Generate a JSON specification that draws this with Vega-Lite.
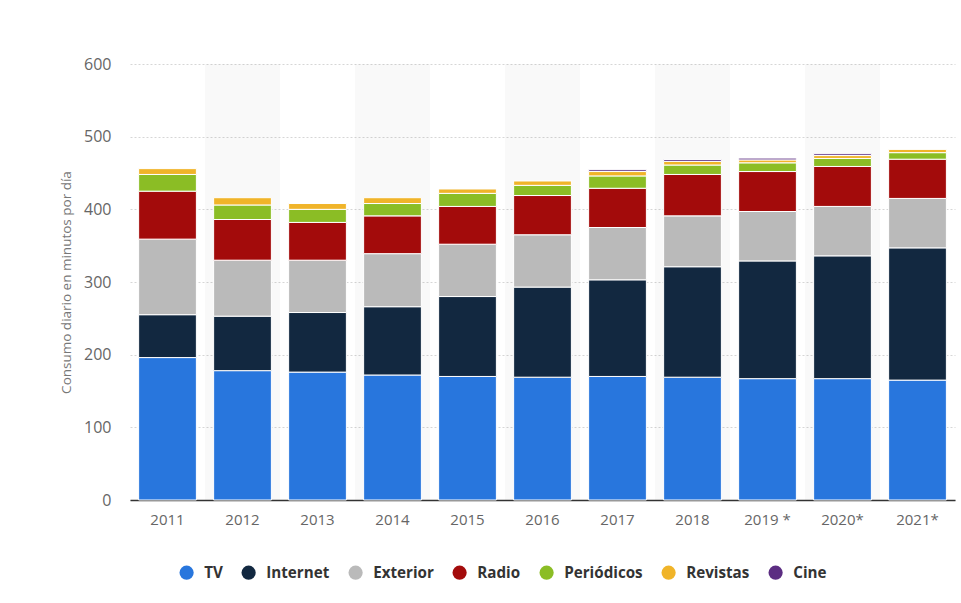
{
  "$schema": "https://vega.github.io/schema/vega-lite/v6.json",
  "width": 825,
  "height": 436,
  "autosize": "none",
  "padding": {"left": 130, "top": 64, "right": 6, "bottom": 103},
  "background": "white",
  "config": {"view": {"stroke": null}, "font": "Open Sans"},
  "datasets": {
    "bandas": [
      {"year": "2012"}, {"year": "2014"}, {"year": "2016"}, {"year": "2018"}, {"year": "2020*"}
    ],
    "series": [
      {"medio": "TV", "orden": 1},
      {"medio": "Internet", "orden": 2},
      {"medio": "Exterior", "orden": 3},
      {"medio": "Radio", "orden": 4},
      {"medio": "Periódicos", "orden": 5},
      {"medio": "Revistas", "orden": 6},
      {"medio": "Cine", "orden": 7}
    ],
    "consumo": [
      {"year": "2011", "medio": "TV", "minutos": 196},
      {"year": "2011", "medio": "Internet", "minutos": 59},
      {"year": "2011", "medio": "Exterior", "minutos": 104},
      {"year": "2011", "medio": "Radio", "minutos": 66},
      {"year": "2011", "medio": "Periódicos", "minutos": 23},
      {"year": "2011", "medio": "Revistas", "minutos": 8},
      {"year": "2012", "medio": "TV", "minutos": 178},
      {"year": "2012", "medio": "Internet", "minutos": 75},
      {"year": "2012", "medio": "Exterior", "minutos": 77},
      {"year": "2012", "medio": "Radio", "minutos": 56},
      {"year": "2012", "medio": "Periódicos", "minutos": 20},
      {"year": "2012", "medio": "Revistas", "minutos": 10},
      {"year": "2013", "medio": "TV", "minutos": 176},
      {"year": "2013", "medio": "Internet", "minutos": 82},
      {"year": "2013", "medio": "Exterior", "minutos": 72},
      {"year": "2013", "medio": "Radio", "minutos": 52},
      {"year": "2013", "medio": "Periódicos", "minutos": 18},
      {"year": "2013", "medio": "Revistas", "minutos": 8},
      {"year": "2014", "medio": "TV", "minutos": 172},
      {"year": "2014", "medio": "Internet", "minutos": 94},
      {"year": "2014", "medio": "Exterior", "minutos": 73},
      {"year": "2014", "medio": "Radio", "minutos": 52},
      {"year": "2014", "medio": "Periódicos", "minutos": 17},
      {"year": "2014", "medio": "Revistas", "minutos": 8},
      {"year": "2015", "medio": "TV", "minutos": 170},
      {"year": "2015", "medio": "Internet", "minutos": 110},
      {"year": "2015", "medio": "Exterior", "minutos": 72},
      {"year": "2015", "medio": "Radio", "minutos": 52},
      {"year": "2015", "medio": "Periódicos", "minutos": 18},
      {"year": "2015", "medio": "Revistas", "minutos": 6},
      {"year": "2016", "medio": "TV", "minutos": 169},
      {"year": "2016", "medio": "Internet", "minutos": 124},
      {"year": "2016", "medio": "Exterior", "minutos": 72},
      {"year": "2016", "medio": "Radio", "minutos": 54},
      {"year": "2016", "medio": "Periódicos", "minutos": 14},
      {"year": "2016", "medio": "Revistas", "minutos": 6},
      {"year": "2017", "medio": "TV", "minutos": 170},
      {"year": "2017", "medio": "Internet", "minutos": 133},
      {"year": "2017", "medio": "Exterior", "minutos": 72},
      {"year": "2017", "medio": "Radio", "minutos": 54},
      {"year": "2017", "medio": "Periódicos", "minutos": 17},
      {"year": "2017", "medio": "Revistas", "minutos": 6},
      {"year": "2017", "medio": "Cine", "minutos": 2.5},
      {"year": "2018", "medio": "TV", "minutos": 169},
      {"year": "2018", "medio": "Internet", "minutos": 152},
      {"year": "2018", "medio": "Exterior", "minutos": 70},
      {"year": "2018", "medio": "Radio", "minutos": 57},
      {"year": "2018", "medio": "Periódicos", "minutos": 13},
      {"year": "2018", "medio": "Revistas", "minutos": 5},
      {"year": "2018", "medio": "Cine", "minutos": 2.5},
      {"year": "2019 *", "medio": "TV", "minutos": 167},
      {"year": "2019 *", "medio": "Internet", "minutos": 162},
      {"year": "2019 *", "medio": "Exterior", "minutos": 68},
      {"year": "2019 *", "medio": "Radio", "minutos": 55},
      {"year": "2019 *", "medio": "Periódicos", "minutos": 12},
      {"year": "2019 *", "medio": "Revistas", "minutos": 4},
      {"year": "2019 *", "medio": "Cine", "minutos": 2.5},
      {"year": "2020*", "medio": "TV", "minutos": 167},
      {"year": "2020*", "medio": "Internet", "minutos": 169},
      {"year": "2020*", "medio": "Exterior", "minutos": 68},
      {"year": "2020*", "medio": "Radio", "minutos": 55},
      {"year": "2020*", "medio": "Periódicos", "minutos": 11},
      {"year": "2020*", "medio": "Revistas", "minutos": 4},
      {"year": "2020*", "medio": "Cine", "minutos": 2.5},
      {"year": "2021*", "medio": "TV", "minutos": 165},
      {"year": "2021*", "medio": "Internet", "minutos": 182},
      {"year": "2021*", "medio": "Exterior", "minutos": 68},
      {"year": "2021*", "medio": "Radio", "minutos": 54},
      {"year": "2021*", "medio": "Periódicos", "minutos": 9},
      {"year": "2021*", "medio": "Revistas", "minutos": 4.5}
    ]
  },
  "layer": [
    {
      "data": {"name": "bandas"},
      "mark": {"type": "bar", "fill": "#000000", "fillOpacity": 0.022},
      "encoding": {
        "x": {
          "field": "year", "type": "nominal",
          "scale": {"domain": ["2011","2012","2013","2014","2015","2016","2017","2018","2019 *","2020*","2021*"], "paddingInner": 0, "paddingOuter": 0},
          "axis": {
            "title": null, "labelAngle": 0, "ticks": false, "labelFontSize": 15, "labelColor": "#666666",
            "labelPadding": 12, "domainColor": "#333333", "domainWidth": 1.5, "grid": false
          }
        }
      }
    },
    {
      "data": {"name": "consumo"},
      "transform": [
        {"lookup": "medio", "from": {"data": {"name": "series"}, "key": "medio", "fields": ["orden"]}}
      ],
      "mark": {"type": "bar", "width": {"band": 0.77}, "stroke": "#ffffff", "strokeWidth": 1},
      "encoding": {
        "x": {
          "field": "year", "type": "nominal",
          "scale": {"domain": ["2011","2012","2013","2014","2015","2016","2017","2018","2019 *","2020*","2021*"], "paddingInner": 0, "paddingOuter": 0},
          "axis": {
            "title": null, "labelAngle": 0, "ticks": false, "labelFontSize": 15, "labelColor": "#666666",
            "labelPadding": 12, "domainColor": "#333333", "domainWidth": 1.5, "grid": false
          }
        },
        "y": {
          "field": "minutos", "type": "quantitative", "stack": "zero",
          "scale": {"domain": [0, 600], "nice": false},
          "axis": {
            "title": "Consumo diario en minutos por día", "titleFontSize": 13.5, "titleFontWeight": "normal",
            "titleColor": "#777777", "titlePadding": 10,
            "values": [0, 100, 200, 300, 400, 500, 600],
            "labelFontSize": 16, "labelColor": "#666666", "labelPadding": 19,
            "ticks": false, "domain": false,
            "gridDash": [2, 2], "gridColor": "#d6d6d6", "gridWidth": 1
          }
        },
        "color": {
          "field": "medio", "type": "nominal",
          "sort": ["TV", "Internet", "Exterior", "Radio", "Periódicos", "Revistas", "Cine"],
          "scale": {
            "domain": ["TV", "Internet", "Exterior", "Radio", "Periódicos", "Revistas", "Cine"],
            "range": ["#2876dd", "#122840", "#bababa", "#a30b0b", "#8bbd25", "#f0b429", "#5c2d82"]
          },
          "legend": {
            "orient": "none", "legendX": 49, "legendY": 501, "direction": "horizontal",
            "title": null, "symbolType": "circle", "symbolSize": 201, "symbolStrokeWidth": 0,
            "labelFontSize": 15.2, "labelFontWeight": "bold", "labelColor": "#333333",
            "labelOffset": 10, "columnPadding": 18
          }
        },
        "order": {"field": "orden", "type": "quantitative", "sort": "ascending"}
      }
    }
  ]
}
